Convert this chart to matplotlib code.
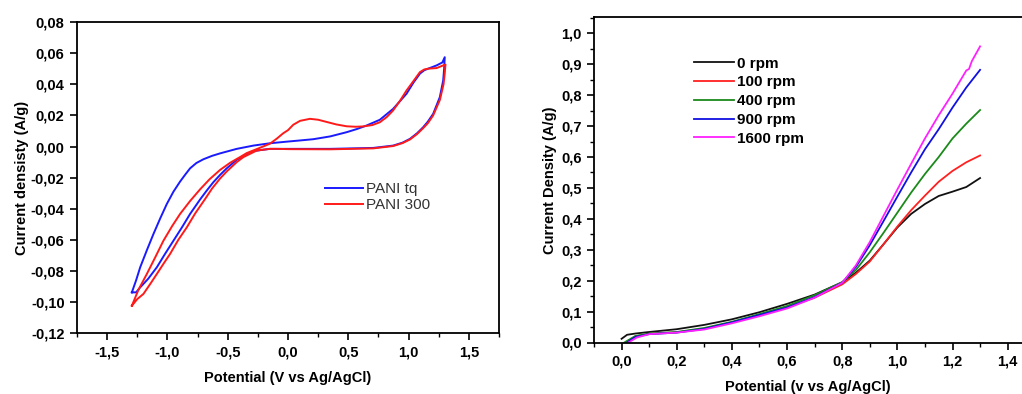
import numpy as np
import matplotlib
matplotlib.use("Agg")
import matplotlib.pyplot as plt
from matplotlib.ticker import FuncFormatter, MultipleLocator

plt.rcParams['font.family'] = ['Liberation Sans', 'DejaVu Sans']

# ---------------- Left panel: cyclic voltammograms ----------------
tq_fwd_x = [-1.295, -1.26, -1.226, -1.17, -1.116, -1.06, -1.005, -0.95, -0.895, -0.85, -0.812, -0.76,
            -0.702, -0.63, -0.563, -0.425, -0.287, -0.149, 0.0, 0.1, 0.21, 0.35, 0.486, 0.57, 0.652,
            0.762, 0.872, 0.983, 1.04, 1.094, 1.13, 1.162, 1.232, 1.28, 1.30]
tq_fwd_y = [-0.0937, -0.0860, -0.0776, -0.0665, -0.0562, -0.0462, -0.0369, -0.0290, -0.0225, -0.0178,
            -0.0140, -0.0106, -0.0082, -0.0060, -0.0044, -0.0015, 0.0006, 0.0021, 0.0032, 0.0039, 0.0047,
            0.0065, 0.0092, 0.0112, 0.0135, 0.0172, 0.0242, 0.0339, 0.0410, 0.0468, 0.0490, 0.0500,
            0.0521, 0.0540, 0.0574]
tq_rev_x = [1.30, 1.295, 1.287, 1.259, 1.204, 1.16, 1.121, 1.07, 1.011, 0.95, 0.872, 0.707, 0.348,
            -0.066, -0.149, -0.22, -0.287, -0.35, -0.425, -0.508, -0.563, -0.62, -0.674, -0.729,
            -0.812, -0.88, -0.950, -1.02, -1.088, -1.16, -1.226, -1.26, -1.295]
tq_rev_y = [0.0574, 0.0500, 0.0424, 0.0317, 0.0210, 0.0160, 0.0124, 0.0085, 0.0049, 0.0025, 0.0006,
            -0.0009, -0.0015, -0.0015, -0.0015, -0.0022, -0.0030, -0.0055, -0.0085, -0.0140, -0.0182,
            -0.0230, -0.0283, -0.0340, -0.0433, -0.0520, -0.0605, -0.0690, -0.0776, -0.0850, -0.0905,
            -0.0937, -0.0937]

p300_fwd_x = [-1.295, -1.24, -1.171, -1.10, -1.033, -0.96, -0.895, -0.812, -0.729, -0.65, -0.563,
              -0.481, -0.398, -0.342, -0.232, -0.15, -0.094, -0.04, 0.0, 0.044, 0.1, 0.182, 0.25, 0.32,
              0.40, 0.486, 0.56, 0.624, 0.70, 0.762, 0.82, 0.872, 0.93, 0.983, 1.04, 1.094, 1.13,
              1.162, 1.232, 1.306]
p300_fwd_y = [-0.1023, -0.0920, -0.0819, -0.0710, -0.0605, -0.0510, -0.0433, -0.0350, -0.0275, -0.0210,
              -0.0150, -0.0105, -0.0068, -0.0042, -0.0008, 0.0018, 0.0050, 0.0085, 0.0105, 0.0140,
              0.0165, 0.0178, 0.0172, 0.0158, 0.0142, 0.0130, 0.0127, 0.0129, 0.0138, 0.0156, 0.0190,
              0.0232, 0.0295, 0.0360, 0.0420, 0.0478, 0.0495, 0.0500, 0.0504, 0.0527]
p300_rev_x = [1.306, 1.30, 1.29, 1.26, 1.204, 1.16, 1.121, 1.07, 1.011, 0.95, 0.872, 0.707, 0.348,
              0.017, -0.094, -0.149, -0.26, -0.37, -0.425, -0.508, -0.563, -0.63, -0.69, -0.77,
              -0.839, -0.91, -0.978, -1.03, -1.088, -1.14, -1.199, -1.25, -1.295]
p300_rev_y = [0.0527, 0.0470, 0.0400, 0.0300, 0.0200, 0.0150, 0.0118, 0.0080, 0.0045, 0.0022, 0.0003,
              -0.0012, -0.0018, -0.0017, -0.0015, -0.0015, -0.0026, -0.0068, -0.0100, -0.0160, -0.0205,
              -0.0270, -0.0340, -0.0430, -0.0519, -0.0600, -0.0690, -0.0750, -0.0819, -0.0880, -0.0947,
              -0.0980, -0.1023]

cv_labels = ["PANI tq", "PANI 300"]
cv_colors = ["#1a1aff", "#ff1a1a"]

# ---------------- Right panel: LSV at rotation rates ----------------
rpm_labels = ["0 rpm", "100 rpm", "400 rpm", "900 rpm", "1600 rpm"]
rpm_colors = ["#111111", "#ff2020", "#1a8a1a", "#1010e0", "#ff20ff"]

lsv_x0 = [0.0, 0.02, 0.05, 0.1, 0.2, 0.3, 0.4, 0.5, 0.6, 0.7, 0.8, 0.85, 0.9, 0.95, 1.0, 1.05, 1.1, 1.15, 1.2, 1.25, 1.3]
lsv_y0 = [0.012, 0.025, 0.029, 0.034, 0.043, 0.057, 0.075, 0.098, 0.125, 0.155, 0.195, 0.226, 0.265, 0.318, 0.372,
          0.416, 0.448, 0.474, 0.488, 0.503, 0.532]
lsv_x100 = [0.015, 0.05, 0.1, 0.2, 0.3, 0.4, 0.5, 0.6, 0.7, 0.8, 0.85, 0.9, 0.95, 1.0, 1.05, 1.1, 1.15, 1.2, 1.25, 1.3]
lsv_y100 = [0.0, 0.020, 0.028, 0.033, 0.045, 0.065, 0.088, 0.113, 0.145, 0.188, 0.222, 0.262, 0.318, 0.375,
            0.428, 0.475, 0.520, 0.555, 0.583, 0.605]
lsv_x400 = [0.01, 0.05, 0.1, 0.2, 0.3, 0.4, 0.5, 0.6, 0.7, 0.8, 0.85, 0.9, 0.95, 1.0, 1.05, 1.1, 1.15, 1.2, 1.25, 1.3]
lsv_y400 = [0.0, 0.021, 0.029, 0.034, 0.047, 0.067, 0.092, 0.118, 0.153, 0.195, 0.235, 0.292, 0.355, 0.420,
            0.485, 0.545, 0.600, 0.660, 0.708, 0.752]
lsv_x900 = [0.02, 0.05, 0.1, 0.2, 0.3, 0.4, 0.5, 0.6, 0.7, 0.8, 0.85, 0.9, 0.95, 1.0, 1.05, 1.1, 1.15, 1.2, 1.25, 1.3]
lsv_y900 = [0.0, 0.018, 0.027, 0.032, 0.044, 0.065, 0.089, 0.113, 0.147, 0.193, 0.245, 0.315, 0.393, 0.472,
            0.550, 0.625, 0.690, 0.760, 0.825, 0.882]
lsv_x1600 = [0.025, 0.055, 0.1, 0.2, 0.3, 0.4, 0.5, 0.6, 0.7, 0.8, 0.85, 0.9, 0.95, 1.0, 1.05, 1.1, 1.15, 1.2,
             1.25, 1.26, 1.27, 1.3]
lsv_y1600 = [0.0, 0.016, 0.027, 0.032, 0.042, 0.062, 0.085, 0.110, 0.145, 0.193, 0.250, 0.325, 0.410, 0.495,
             0.578, 0.660, 0.735, 0.805, 0.880, 0.885, 0.910, 0.958]

lsv_xs = [lsv_x0, lsv_x100, lsv_x400, lsv_x900, lsv_x1600]
lsv_ys = [lsv_y0, lsv_y100, lsv_y400, lsv_y900, lsv_y1600]


def comma_fmt(decimals):
    def f(v, pos):
        if abs(v) < 1e-9:
            v = 0.0
        return f"{v:.{decimals}f}".replace('.', ',')
    return FuncFormatter(f)


W, H = 1022, 394
fig = plt.figure(figsize=(W / 100, H / 100), dpi=100)

# ---- left axes ----
axL = fig.add_axes([77 / W, 1 - 333.3 / H, 422 / W, 311.3 / H])
axL.plot(tq_fwd_x + tq_rev_x, tq_fwd_y + tq_rev_y, color=cv_colors[0], lw=1.4, label=cv_labels[0])
axL.plot(p300_fwd_x + p300_rev_x, p300_fwd_y + p300_rev_y, color=cv_colors[1], lw=1.4, label=cv_labels[1])
axL.set_xlim(-1.75, 1.75)
axL.set_ylim(-0.12, 0.08)
axL.xaxis.set_major_locator(MultipleLocator(0.5))
axL.xaxis.set_minor_locator(MultipleLocator(0.25))
axL.yaxis.set_major_locator(MultipleLocator(0.02))
axL.xaxis.set_major_formatter(comma_fmt(1))
axL.yaxis.set_major_formatter(comma_fmt(2))
axL.set_xlabel("Potential (V vs Ag/AgCl)", fontsize=10.5, fontweight='bold', labelpad=8)
axL.set_ylabel("Current densisty (A/g)", fontsize=10.5, fontweight='bold', labelpad=1)
leg = axL.legend(loc='upper left', bbox_to_anchor=(0.588, 0.486), frameon=False, fontsize=11,
                 handlelength=2.5, handletextpad=0.2, borderpad=0, borderaxespad=0, labelspacing=0.16)
for t in leg.get_texts():
    t.set_color('#333333')

# ---- right axes ----
axR = fig.add_axes([594 / W, 1 - 342.5 / H, (W - 594) / W, 325.5 / H])
for xs, ys, c, lab in zip(lsv_xs, lsv_ys, rpm_colors, rpm_labels):
    axR.plot(xs, ys, color=c, lw=1.3, label=lab)
axR.set_xlim(-0.1, 1.452)
axR.set_ylim(0.0, 1.053)
axR.xaxis.set_major_locator(MultipleLocator(0.2))
axR.xaxis.set_minor_locator(MultipleLocator(0.1))
axR.yaxis.set_major_locator(MultipleLocator(0.1))
axR.yaxis.set_minor_locator(MultipleLocator(0.05))
axR.xaxis.set_major_formatter(comma_fmt(1))
axR.yaxis.set_major_formatter(comma_fmt(1))
axR.spines['right'].set_visible(False)
axR.set_xlabel("Potential (v vs Ag/AgCl)", fontsize=10.5, fontweight='bold', labelpad=8)
axR.set_ylabel("Current Density (A/g)", fontsize=10.5, fontweight='bold', labelpad=3)
legR = axR.legend(loc='upper left', bbox_to_anchor=(0.234, 0.878), frameon=False,
                  prop=dict(size=11, weight='bold'),
                  handlelength=2.6, handletextpad=0.2, borderpad=0, borderaxespad=0, labelspacing=0.31)

for ax in (axL, axR):
    for s in ax.spines.values():
        s.set_linewidth(1.3)
    ax.tick_params(which='major', direction='out', length=5, width=1.2, labelsize=10.5, pad=4)
    ax.tick_params(which='minor', direction='out', length=3, width=1.0)
    ax.tick_params(axis='x', which='major', pad=4)
    for t in ax.get_xticklabels() + ax.get_yticklabels():
        t.set_fontweight('bold')

fig.savefig("out.png", dpi=100)
